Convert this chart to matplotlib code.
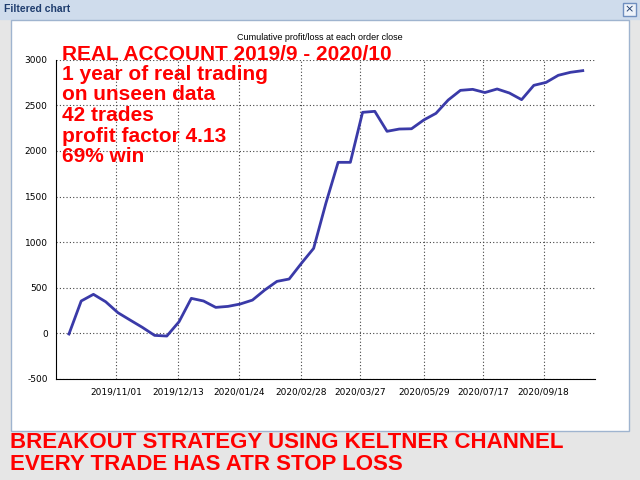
import matplotlib
matplotlib.use("Agg")
import matplotlib.pyplot as plt
from matplotlib.patches import Rectangle

values = [-7, 355, 428, 347, 227, 146, 66, -22, -29, 128, 384, 355, 285, 296, 322,
          365, 475, 570, 596, 768, 932, 1426, 1875, 1875, 2423, 2434, 2215, 2240, 2243,
          2339, 2412, 2558, 2664, 2675, 2640, 2679, 2635, 2562, 2719, 2751, 2829, 2862, 2880]
tick_pos = [3.83, 8.9, 13.87, 19, 23.8, 29, 33.85, 38.8]
tick_labels = ["2019/11/01", "2019/12/13", "2020/01/24", "2020/02/28",
               "2020/03/27", "2020/05/29", "2020/07/17", "2020/09/18"]
yticks = [-500, 0, 500, 1000, 1500, 2000, 2500, 3000]
overlay = ["REAL ACCOUNT 2019/9 - 2020/10", "1 year of real trading", "on unseen data",
           "42 trades", "profit factor 4.13", "69% win"]
footer = ["BREAKOUT STRATEGY USING KELTNER CHANNEL", "EVERY TRADE HAS ATR STOP LOSS"]

plt.rcParams["axes.unicode_minus"] = False
fig = plt.figure(figsize=(6.4, 4.8), dpi=100)
fig.patch.set_facecolor("#e6e6e6")
fig.add_artist(Rectangle((0, 1 - 19/480), 1, 19/480, transform=fig.transFigure, color="#cfdcec", zorder=0))
fig.add_artist(Rectangle((11/640, 1 - 431/480), 618/640, 411/480, transform=fig.transFigure,
                         facecolor="white", edgecolor="#9fb4cf", zorder=0))
fig.add_artist(Rectangle((623/640, 1 - 16/480), 13/640, 13/480, transform=fig.transFigure,
                         facecolor="#eef3fa", edgecolor="#6f8fbf", zorder=1))
fig.text(629.5/640, 1 - 9.5/480, "×", fontsize=8, ha="center", va="center", color="#1f3d6e")
fig.text(4/640, 1 - 9/480, "Filtered chart", fontsize=7.5, fontweight="bold", color="#1f3d6e", va="center",
         family="Liberation Sans")
fig.text(0.5, 1 - 37/480, "Cumulative profit/loss at each order close", fontsize=6.5, ha="center", va="center",
         family="Liberation Sans")

ax = fig.add_axes([56/640, 1 - 379/480, (595 - 56)/640, (379 - 59.7)/480])
x = list(range(len(values)))
ax.plot(x, values, color="#3a3aa8", lw=2)
ax.set_xlim(-1.06, 43)
ax.set_ylim(-500, 3000)
ax.set_yticks(yticks)
ax.set_xticks(tick_pos)
ax.set_xticklabels(tick_labels)
ax.tick_params(labelsize=6.5, length=0, pad=6)
ax.grid(True, color="#444444", linestyle=(0, (1, 2)), lw=0.8)
for s in ["top", "right"]:
    ax.spines[s].set_visible(False)

for i, t in enumerate(overlay):
    fig.text(62/640, 1 - (54 + i*20.5)/480, t, fontsize=15, fontweight="bold", color="#ff0000",
             va="center", family="Liberation Sans")
for i, t in enumerate(footer):
    fig.text(10/640, 1 - (442 + i*22)/480, t, fontsize=16, fontweight="bold", color="#ff0000",
             va="center", family="Liberation Sans")

fig.savefig("out.png", dpi=100, facecolor=fig.get_facecolor())
